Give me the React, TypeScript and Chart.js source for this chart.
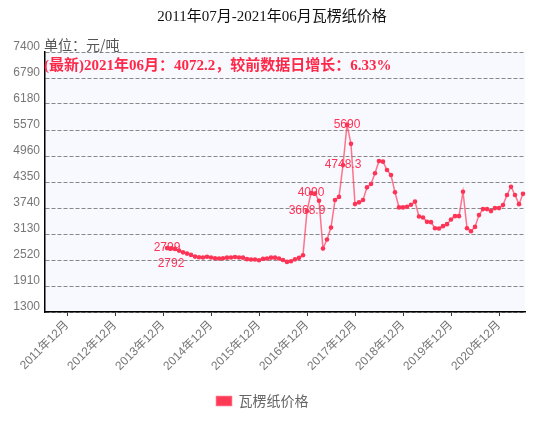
import React, { useEffect, useRef } from 'react';
import { Chart, registerables } from 'chart.js';

Chart.register(...registerables);

// Monthly categories 2011-07 .. 2021-06
const months: string[] = [];
for (let y = 2011; y <= 2021; y++) {
  for (let m = 1; m <= 12; m++) {
    if ((y === 2011 && m < 7) || (y === 2021 && m > 6)) continue;
    months.push(`${y}年${String(m).padStart(2, '0')}月`);
  }
}

const xTickLabels = [
  '2011年12月', '2012年12月', '2013年12月', '2014年12月', '2015年12月',
  '2016年12月', '2017年12月', '2018年12月', '2019年12月', '2020年12月',
];

const yTickValues = [1300, 1910, 2520, 3130, 3740, 4350, 4960, 5570, 6180, 6790, 7400];

// 瓦楞纸价格 (元/吨); no data before 2014-01
const priceValues: (number | null)[] = [
  null, null, null, null, null, null, null, null, null, null,
  null, null, null, null, null, null, null, null, null, null,
  null, null, null, null, null, null, null, null, null, null,
  2799, 2792, 2780, 2740, 2700, 2670, 2640, 2600, 2585, 2580,
  2595, 2580, 2560, 2555, 2560, 2575, 2580, 2590, 2580, 2575,
  2540, 2530, 2530, 2515, 2550, 2555, 2575, 2575, 2555, 2520,
  2475, 2490, 2535, 2570, 2630, 3668.9, 4090, 4080, 3909, 2790,
  3000, 3280, 3926, 4000, 4748.3, 5690, 5245, 3832, 3872, 3926,
  4225, 4303, 4555, 4844, 4828, 4632, 4515, 4110, 3754, 3754,
  3770, 3815, 3890, 3540, 3518, 3415, 3408, 3266, 3259, 3314,
  3361, 3471, 3549, 3549, 4121, 3266, 3196, 3297, 3573, 3714,
  3714, 3667, 3738, 3738, 3808, 4044, 4239, 4044, 3830, 4072.2,
];

const labeledPoints = [30, 31, 65, 66, 74, 75];
const labeledTexts = ['2799', '2792', '3668.9', '4090', '4748.3', '5690'];

const titleText = '2011年07月-2021年06月瓦楞纸价格';
const unitText = '单位：元/吨';
const latestText = '(最新)2021年06月：4072.2，较前数据日增长：6.33%';
const seriesName = '瓦楞纸价格';

const decorPlugin = {
  id: 'decor',
  beforeDraw(chart: any) {
    const { ctx, chartArea: a } = chart;
    ctx.save();
    ctx.fillStyle = '#F8F9FF';
    ctx.fillRect(a.left, a.top, a.right - a.left, a.bottom - a.top);
    ctx.restore();
  },
  afterDatasetsDraw(chart: any) {
    const { ctx } = chart;
    const meta = chart.getDatasetMeta(0);
    ctx.save();
    ctx.font = '12px "Liberation Sans", sans-serif';
    ctx.fillStyle = '#FF3355';
    ctx.textAlign = 'center';
    ctx.textBaseline = 'middle';
    labeledPoints.forEach((idx, i) => {
      const p = meta.data[idx];
      if (!p) return;
      const dy = i === 1 ? 15 : 0;
      ctx.fillText(labeledTexts[i], p.x, p.y + dy);
    });
    ctx.restore();
  },
  afterDraw(chart: any) {
    const { ctx, chartArea: a } = chart;
    ctx.save();
    ctx.textBaseline = 'middle';
    ctx.textAlign = 'center';
    ctx.fillStyle = '#111';
    ctx.font = '15px "Liberation Serif", "Noto Sans CJK SC", serif';
    ctx.fillText(titleText, 272, 17);
    ctx.textAlign = 'left';
    ctx.fillStyle = '#555';
    ctx.font = '14px "Noto Sans CJK SC", sans-serif';
    ctx.fillText(unitText, a.left - 1, 45);
    ctx.fillStyle = '#FF2848';
    ctx.font = 'bold 15px "Liberation Serif", "Noto Sans CJK SC", serif';
    ctx.fillText(latestText, a.left - 1, 66);
    ctx.restore();
  },
};

export default function App() {
  const ref = useRef<HTMLCanvasElement | null>(null);
  useEffect(() => {
    if (!ref.current) return;
    const chart = new Chart(ref.current, {
      type: 'line',
      data: {
        labels: months,
        datasets: [
          {
            label: seriesName,
            data: priceValues,
            borderColor: 'rgba(255,70,100,0.75)',
            backgroundColor: '#FF3A55',
            borderWidth: 1.5,
            pointBackgroundColor: '#FF3355',
            pointBorderColor: '#FF3355',
            pointRadius: 2.3,
            pointBorderWidth: 0,
            tension: 0,
            spanGaps: false,
          },
        ],
      },
      options: {
        animation: false,
        responsive: false,
        devicePixelRatio: 1,
        layout: { padding: { top: 52, left: 0, right: 19, bottom: 4 } },
        plugins: {
          title: { display: false },
          tooltip: { enabled: false },
          legend: {
            display: true,
            position: 'bottom',
            labels: {
              boxWidth: 15,
              boxHeight: 9,
              padding: 10,
              color: '#666',
              font: { size: 14, family: '"Noto Sans CJK SC", sans-serif' },
            },
          },
        },
        scales: {
          x: {
            type: 'category',
            offset: true,
            afterBuildTicks: (scale: any) => {
              scale.ticks = scale.ticks.filter((t: any) => xTickLabels.includes(months[t.value]));
            },
            afterFit: (scale: any) => {
              scale.height = 72;
            },
            grid: {
              display: true,
              drawOnChartArea: false,
              drawTicks: true,
              tickLength: 4,
              tickColor: '#333',
              offset: false,
            },
            border: { display: true, color: '#000', width: 1.5 },
            ticks: {
              autoSkip: false,
              minRotation: 45,
              maxRotation: 45,
              padding: 2,
              color: '#777',
              font: { size: 12, family: '"Liberation Sans", "Noto Sans CJK SC", sans-serif' },
            },
          },
          y: {
            min: 1300,
            max: 7400,
            afterBuildTicks: (scale: any) => {
              scale.ticks = yTickValues.map((v) => ({ value: v }));
            },
            afterFit: (scale: any) => {
              scale.width = 45;
            },
            grid: {
              color: '#888',
              lineWidth: 1,
              drawTicks: false,
            },
            border: { display: true, color: '#000', width: 1.5, dash: [4, 2] },
            ticks: {
              padding: 5,
              labelOffset: -5,
              color: '#777',
              font: { size: 12, family: '"Liberation Sans", sans-serif' },
              callback: (v: any) => String(v),
            },
          },
        },
      },
      plugins: [decorPlugin],
    } as any);
    return () => chart.destroy();
  }, []);

  return (
    <div style={{ position: 'fixed', left: 0, top: 0, width: 544, height: 422 }}>
      <canvas ref={ref} width={544} height={422} style={{ width: 544, height: 422 }} />
    </div>
  );
}
